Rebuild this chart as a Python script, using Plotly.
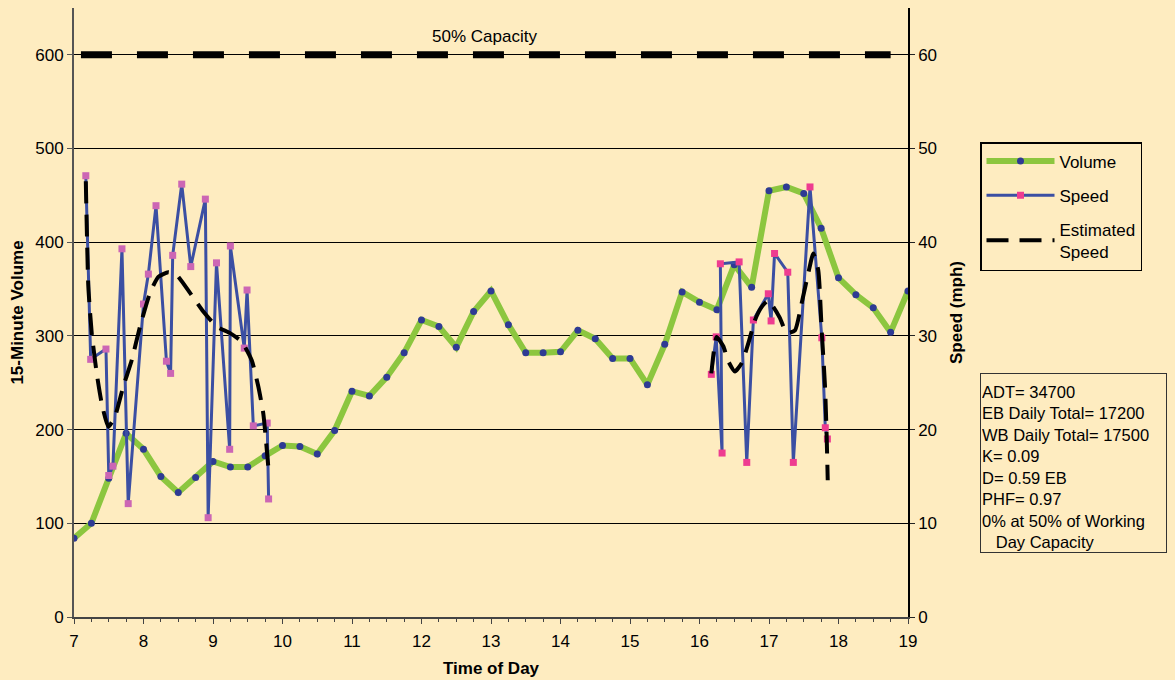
import plotly.graph_objects as go

# ---------------- data ----------------
vol_times = [7.0, 7.25, 7.5, 7.75, 8.0, 8.25, 8.5, 8.75, 9.0, 9.25, 9.5, 9.75,
             10.0, 10.25, 10.5, 10.75, 11.0, 11.25, 11.5, 11.75, 12.0, 12.25, 12.5, 12.75,
             13.0, 13.25, 13.5, 13.75, 14.0, 14.25, 14.5, 14.75, 15.0, 15.25, 15.5, 15.75,
             16.0, 16.25, 16.5, 16.75, 17.0, 17.25, 17.5, 17.75, 18.0, 18.25, 18.5, 18.75, 19.0]
volume = [84, 100, 148, 196, 179, 150, 133, 149, 166, 160, 160, 172,
          183, 182, 174, 199, 241, 236, 256, 282, 317, 310, 288, 326,
          348, 312, 282, 282, 283, 306, 297, 276, 276, 248, 291, 347,
          336, 328, 376, 352, 455, 459, 452, 415, 362, 344, 330, 304, 348]

speed_am_times = [7.17, 7.24, 7.46, 7.50, 7.56, 7.69, 7.78, 8.00, 8.07, 8.18, 8.33, 8.39, 8.42,
                  8.55, 8.68, 8.89, 8.93, 9.05, 9.24, 9.25, 9.45, 9.49, 9.58, 9.78, 9.80]
speed_am = [47.1, 27.5, 28.6, 15.1, 16.1, 39.3, 12.1, 33.4, 36.6, 43.9, 27.3, 26.0, 38.6,
            46.2, 37.4, 44.6, 10.6, 37.8, 17.9, 39.6, 28.7, 34.9, 20.4, 20.7, 12.6]

speed_pm_times = [16.17, 16.24, 16.325, 16.30, 16.57, 16.68, 16.775, 16.99, 17.03, 17.08,
                  17.27, 17.35, 17.59, 17.76, 17.81, 17.84]
speed_pm = [25.9, 29.9, 17.5, 37.7, 37.9, 16.5, 31.7, 34.5, 31.6, 38.8,
            36.8, 16.5, 45.9, 29.8, 20.2, 19.0]

est_am_times = [7.17, 7.206, 7.255, 7.327, 7.399, 7.494, 7.59, 7.709, 7.83, 7.95, 8.094, 8.213,
                8.357, 8.478, 8.669, 8.86, 9.053, 9.245, 9.413, 9.557, 9.652, 9.724, 9.796]
est_am = [46.5, 35.3, 30.3, 26.0, 22.8, 20.3, 21.4, 24.6, 27.4, 31.0, 34.6, 36.3,
          36.8, 36.5, 34.6, 32.6, 31.0, 30.3, 29.4, 27.4, 24.6, 21.7, 16.0]

est_pm_times = [16.17, 16.247, 16.342, 16.414, 16.51, 16.607, 16.702, 16.799, 16.895, 16.99,
                17.062, 17.158, 17.255, 17.374, 17.47, 17.565, 17.637, 17.709, 17.758, 17.806,
                17.83, 17.845]
est_pm = [26.0, 29.9, 28.9, 27.3, 26.2, 27.1, 29.2, 31.7, 33.1, 33.8,
          33.1, 31.9, 30.3, 30.6, 33.5, 36.7, 38.8, 37.0, 30.6, 24.6, 19.2, 14.6]

capacity_times = [7.1, 18.75]
capacity = [600, 600]

vol_ticks = [0, 100, 200, 300, 400, 500, 600]
speed_ticks = [0, 10, 20, 30, 40, 50, 60]

stats_lines = ["ADT= 34700", "EB Daily Total= 17200", "WB Daily Total= 17500",
               "K= 0.09", "D= 0.59 EB", "PHF= 0.97", "0% at 50% of Working",
               "&nbsp;&nbsp;&nbsp;Day Capacity"]

# ---------------- styling ----------------
BG = "#FEECC0"
FONT = "Liberation Sans, Arial, sans-serif"
GREEN = "#8CC63F"
NAVY = "#2E3A94"
BLUE = "#3B4FA3"
PINK_AM = "#CC66B4"
PINK_PM = "#EE3C90"

# page body keeps its 8px margin: the figure is sized to fit inside it
FIG_W, FIG_H = 1159, 672
PLOT_H = 609   # plot-area height in px (y=0 .. 650)
PLOT_W = 834   # plot-area width in px (x=7 .. 19)

fig = go.Figure()

fig.add_trace(go.Scatter(
    x=capacity_times, y=capacity, mode="lines", showlegend=False,
    line=dict(color="black", width=7, dash="31px,25px"), hoverinfo="skip"))

fig.add_trace(go.Scatter(
    x=vol_times, y=volume, mode="lines+markers", name="Volume",
    legendgroup="v", legendrank=1,
    line=dict(color=GREEN, width=6),
    marker=dict(color=NAVY, size=7, symbol="circle")))

fig.add_trace(go.Scatter(
    x=speed_am_times, y=speed_am, yaxis="y2", mode="lines+markers", name="Speed",
    legendgroup="s", showlegend=False,
    line=dict(color=BLUE, width=3),
    marker=dict(color=PINK_AM, size=7, symbol="square")))

fig.add_trace(go.Scatter(
    x=speed_pm_times, y=speed_pm, yaxis="y2", mode="lines+markers", name="Speed",
    legendgroup="s", legendrank=2,
    line=dict(color=BLUE, width=3),
    marker=dict(color=PINK_PM, size=7, symbol="square")))

fig.add_trace(go.Scatter(
    x=est_am_times, y=est_am, yaxis="y2", mode="lines", name="Estimated<br>Speed",
    legendgroup="e", legendrank=3,
    line=dict(color="black", width=4, dash="22px,11px", shape="spline", smoothing=0.5)))

fig.add_trace(go.Scatter(
    x=est_pm_times, y=est_pm, yaxis="y2", mode="lines", name="Estimated<br>Speed",
    legendgroup="e", showlegend=False,
    line=dict(color="black", width=4, dash="22px,11px", shape="spline", smoothing=0.5)))

fig.add_annotation(
    x=12.9, y=600, xref="x", yref="y", text="50% Capacity", showarrow=False,
    yanchor="bottom", yshift=7, font=dict(size=17, family=FONT, color="black"))

# x-axis title placed as a paper annotation for exact positioning
fig.add_annotation(
    x=0.5, y=-51 / PLOT_H, xref="paper", yref="paper", xanchor="center", yanchor="middle",
    text="<b>Time of Day</b>", showarrow=False,
    font=dict(size=17, family=FONT, color="black"))

fig.add_annotation(
    x=906 / PLOT_W, y=(PLOT_H - 365) / PLOT_H, xref="paper", yref="paper",
    xanchor="left", yanchor="top",
    text="<br>".join(stats_lines), showarrow=False, align="left", valign="bottom",
    width=183, height=176, borderpad=1,
    bordercolor="#333333", borderwidth=1, bgcolor=BG,
    font=dict(size=16.5, family=FONT, color="black"))

fig.update_layout(
    width=FIG_W, height=FIG_H, autosize=False,
    paper_bgcolor=BG, plot_bgcolor=BG,
    margin=dict(l=66, r=FIG_W - 66 - PLOT_W, t=0, b=FIG_H - PLOT_H, autoexpand=False),
    font=dict(family=FONT, size=17, color="black"),
    showlegend=True,
    legend=dict(x=906 / PLOT_W, y=(PLOT_H - 134) / PLOT_H, xanchor="left", yanchor="top",
                bgcolor=BG, bordercolor="black", borderwidth=1.5,
                font=dict(size=17, family=FONT), itemwidth=68,
                tracegroupgap=9, traceorder="grouped"),
    xaxis=dict(range=[7, 19], tickmode="linear", tick0=7, dtick=1,
               ticks="outside", ticklen=5, tickcolor="#444", tickwidth=1,
               showline=True, linecolor="#444", linewidth=2,
               showgrid=False, zeroline=False, automargin=False,
               ticklabelstandoff=3,
               minor=dict(dtick=0.25, tick0=7, ticks="outside", ticklen=3,
                          tickcolor="#444", showgrid=False)),
    yaxis=dict(range=[0, 650], tickmode="array", tickvals=vol_ticks,
               ticks="outside", ticklen=5, tickcolor="#555",
               showline=True, linecolor="#555", linewidth=2,
               showgrid=True, gridcolor="black", gridwidth=1, zeroline=False,
               automargin=False,
               title=dict(text="<b>15-Minute Volume</b>", standoff=14,
                          font=dict(size=17, family=FONT))),
    yaxis2=dict(range=[0, 65], tickmode="array", tickvals=speed_ticks,
                overlaying="y", side="right",
                ticks="outside", ticklen=5, tickcolor="#222",
                showline=True, linecolor="black", linewidth=1.5,
                showgrid=False, zeroline=False, automargin=False,
                title=dict(text="<b>Speed (mph)</b>", standoff=14,
                           font=dict(size=17, family=FONT))),
)

page_bg = ("document.documentElement.style.background='%s';"
           "document.body.style.background='%s';" % (BG, BG))
fig.write_html("out.html", post_script=page_bg)
